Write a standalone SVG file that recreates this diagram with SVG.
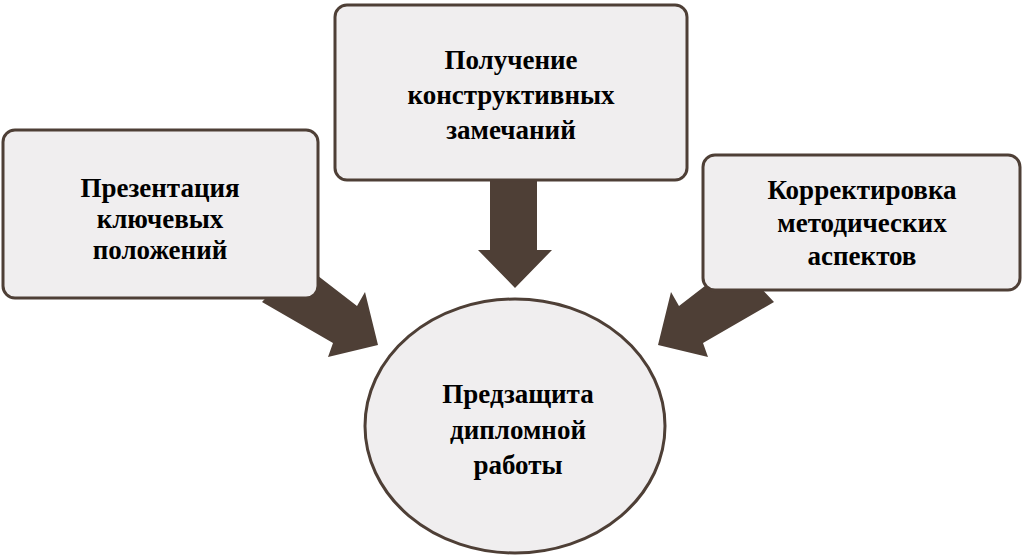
<svg xmlns="http://www.w3.org/2000/svg" width="1024" height="559" viewBox="0 0 1024 559">
<style>
.n{fill:#f0eeef;stroke:#4e3f36;stroke-width:3}
.a{fill:#4e3f36}
text{font-family:"Liberation Serif",serif;font-weight:bold;font-size:27px;fill:#000;text-anchor:middle}
</style>
<rect width="1024" height="559" fill="#fff"/>
<g id="connectors">
<polygon class="a" points="262,302,300,262,357,306,365,292,378,345,328,357,333,343"/>
<polygon class="a" points="490,170,537,170,537,250,552,250,515,288,478,250,490,250"/>
<polygon class="a" points="774,302,736,262,679,306,671,292,658,345,708,357,703,343"/>
</g>
<g id="left"><rect class="n" x="3" y="130" width="315" height="168" rx="12"/>
<text x="160" y="197">Презентация</text><text x="160" y="228">ключевых</text><text x="160" y="259">положений</text></g>
<g id="top"><rect class="n" x="335" y="5" width="352" height="175" rx="12"/>
<text x="511" y="69">Получение</text><text x="511" y="104">конструктивных</text><text x="511" y="139">замечаний</text></g>
<g id="right"><rect class="n" x="703" y="155" width="317" height="135" rx="12"/>
<text x="862" y="199">Корректировка</text><text x="862" y="232">методических</text><text x="862" y="265">аспектов</text></g>
<g id="center"><ellipse class="n" cx="515" cy="426" rx="150" ry="127"/>
<text x="518" y="403">Предзащита</text><text x="518" y="439">дипломной</text><text x="518" y="474">работы</text></g>
</svg>
